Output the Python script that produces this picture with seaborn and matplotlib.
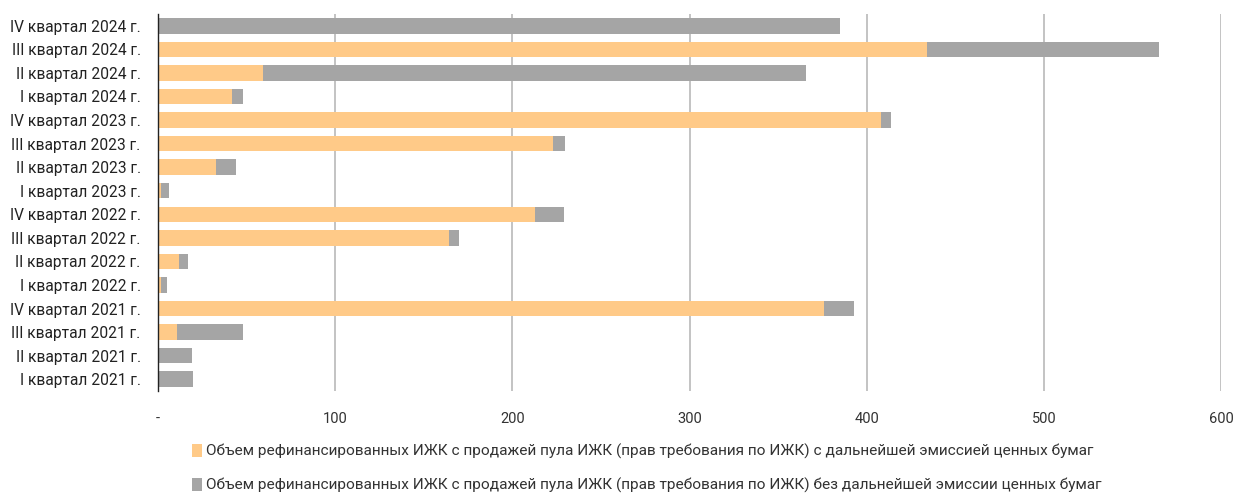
import matplotlib
matplotlib.use("Agg")
import matplotlib.pyplot as plt
import seaborn as sns
import pandas as pd
import numpy as np
from matplotlib.patches import Patch
from matplotlib.ticker import FixedLocator

categories = [
    "IV квартал 2024 г.", "III квартал 2024 г.", "II квартал 2024 г.", "I квартал 2024 г.",
    "IV квартал 2023 г.", "III квартал 2023 г.", "II квартал 2023 г.", "I квартал 2023 г.",
    "IV квартал 2022 г.", "III квартал 2022 г.", "II квартал 2022 г.", "I квартал 2022 г.",
    "IV квартал 2021 г.", "III квартал 2021 г.", "II квартал 2021 г.", "I квартал 2021 г.",
]
with_emission = [0, 434, 59, 42, 408, 223, 33, 1.5, 213, 164, 12, 1.5, 376, 11, 0, 0]
without_emission = [385, 131, 307, 6, 6, 7, 11, 4.5, 16, 6, 5, 3.5, 17, 37, 19, 20]
xticks = [0, 100, 200, 300, 400, 500, 600]
xticklabels = ["-", "100", "200", "300", "400", "500", "600"]
legend_labels = [
    "Объем рефинансированных ИЖК с продажей пула ИЖК (прав требования по ИЖК) с дальнейшей эмиссией ценных бумаг",
    "Объем рефинансированных ИЖК с продажей пула ИЖК (прав требования по ИЖК) без дальнейшей эмиссии ценных бумаг",
]

ORANGE = "#FFCA88"
GRAY = "#A5A5A5"

df = pd.DataFrame({
    "cat": categories,
    "orange": with_emission,
    "total": np.array(with_emission) + np.array(without_emission),
})

sns.set_style("white")
plt.rcParams["font.family"] = ["Roboto", "DejaVu Sans"]

fig = plt.figure(figsize=(12.4, 4.93), dpi=100)
ax = fig.add_axes([158/1240, 1 - 391/493, (1221-158)/1240, (391-14)/493])

sns.barplot(data=df, y="cat", x="total", order=categories, color=GRAY,
            orient="h", width=0.66, saturation=1, ax=ax, zorder=2, linewidth=0)
sns.barplot(data=df, y="cat", x="orange", order=categories, color=ORANGE,
            orient="h", width=0.66, saturation=1, ax=ax, zorder=3, linewidth=0)

ax.set_xlim(0, 600)
ax.set_ylim(len(categories) - 0.5, -0.5)
ax.set_xticks(xticks)
ax.set_xticklabels(xticklabels, fontsize=10.5, color="#333333")
ax.tick_params(axis="x", length=0, pad=15)
ax.tick_params(axis="y", which="major", length=0, labelsize=11.2, labelcolor="#222222", pad=12.5)
ax.yaxis.set_minor_locator(FixedLocator(np.arange(-0.5, len(categories), 1.0)))
ax.tick_params(axis="y", which="minor", length=5, width=1, color="#222222", direction="out")
ax.set_xlabel("")
ax.set_ylabel("")

for v in xticks[1:]:
    ax.axvline(v, color="#B3B3B3", lw=1.1, zorder=1)

for s in ["top", "right", "bottom"]:
    ax.spines[s].set_visible(False)
ax.spines["left"].set_color("#222222")
ax.spines["left"].set_linewidth(1)
ax.spines["left"].set_zorder(5)

handles = [Patch(facecolor=ORANGE, edgecolor="none"), Patch(facecolor=GRAY, edgecolor="none")]
fig.legend(handles, legend_labels, loc="upper left", bbox_to_anchor=(184/1240, 1 - 436/493),
           frameon=False, fontsize=11.1, handlelength=0.65, handleheight=0.9,
           handletextpad=0.25, labelspacing=1.2, borderpad=0, labelcolor="#333333")

fig.savefig("out.png", dpi=100)
